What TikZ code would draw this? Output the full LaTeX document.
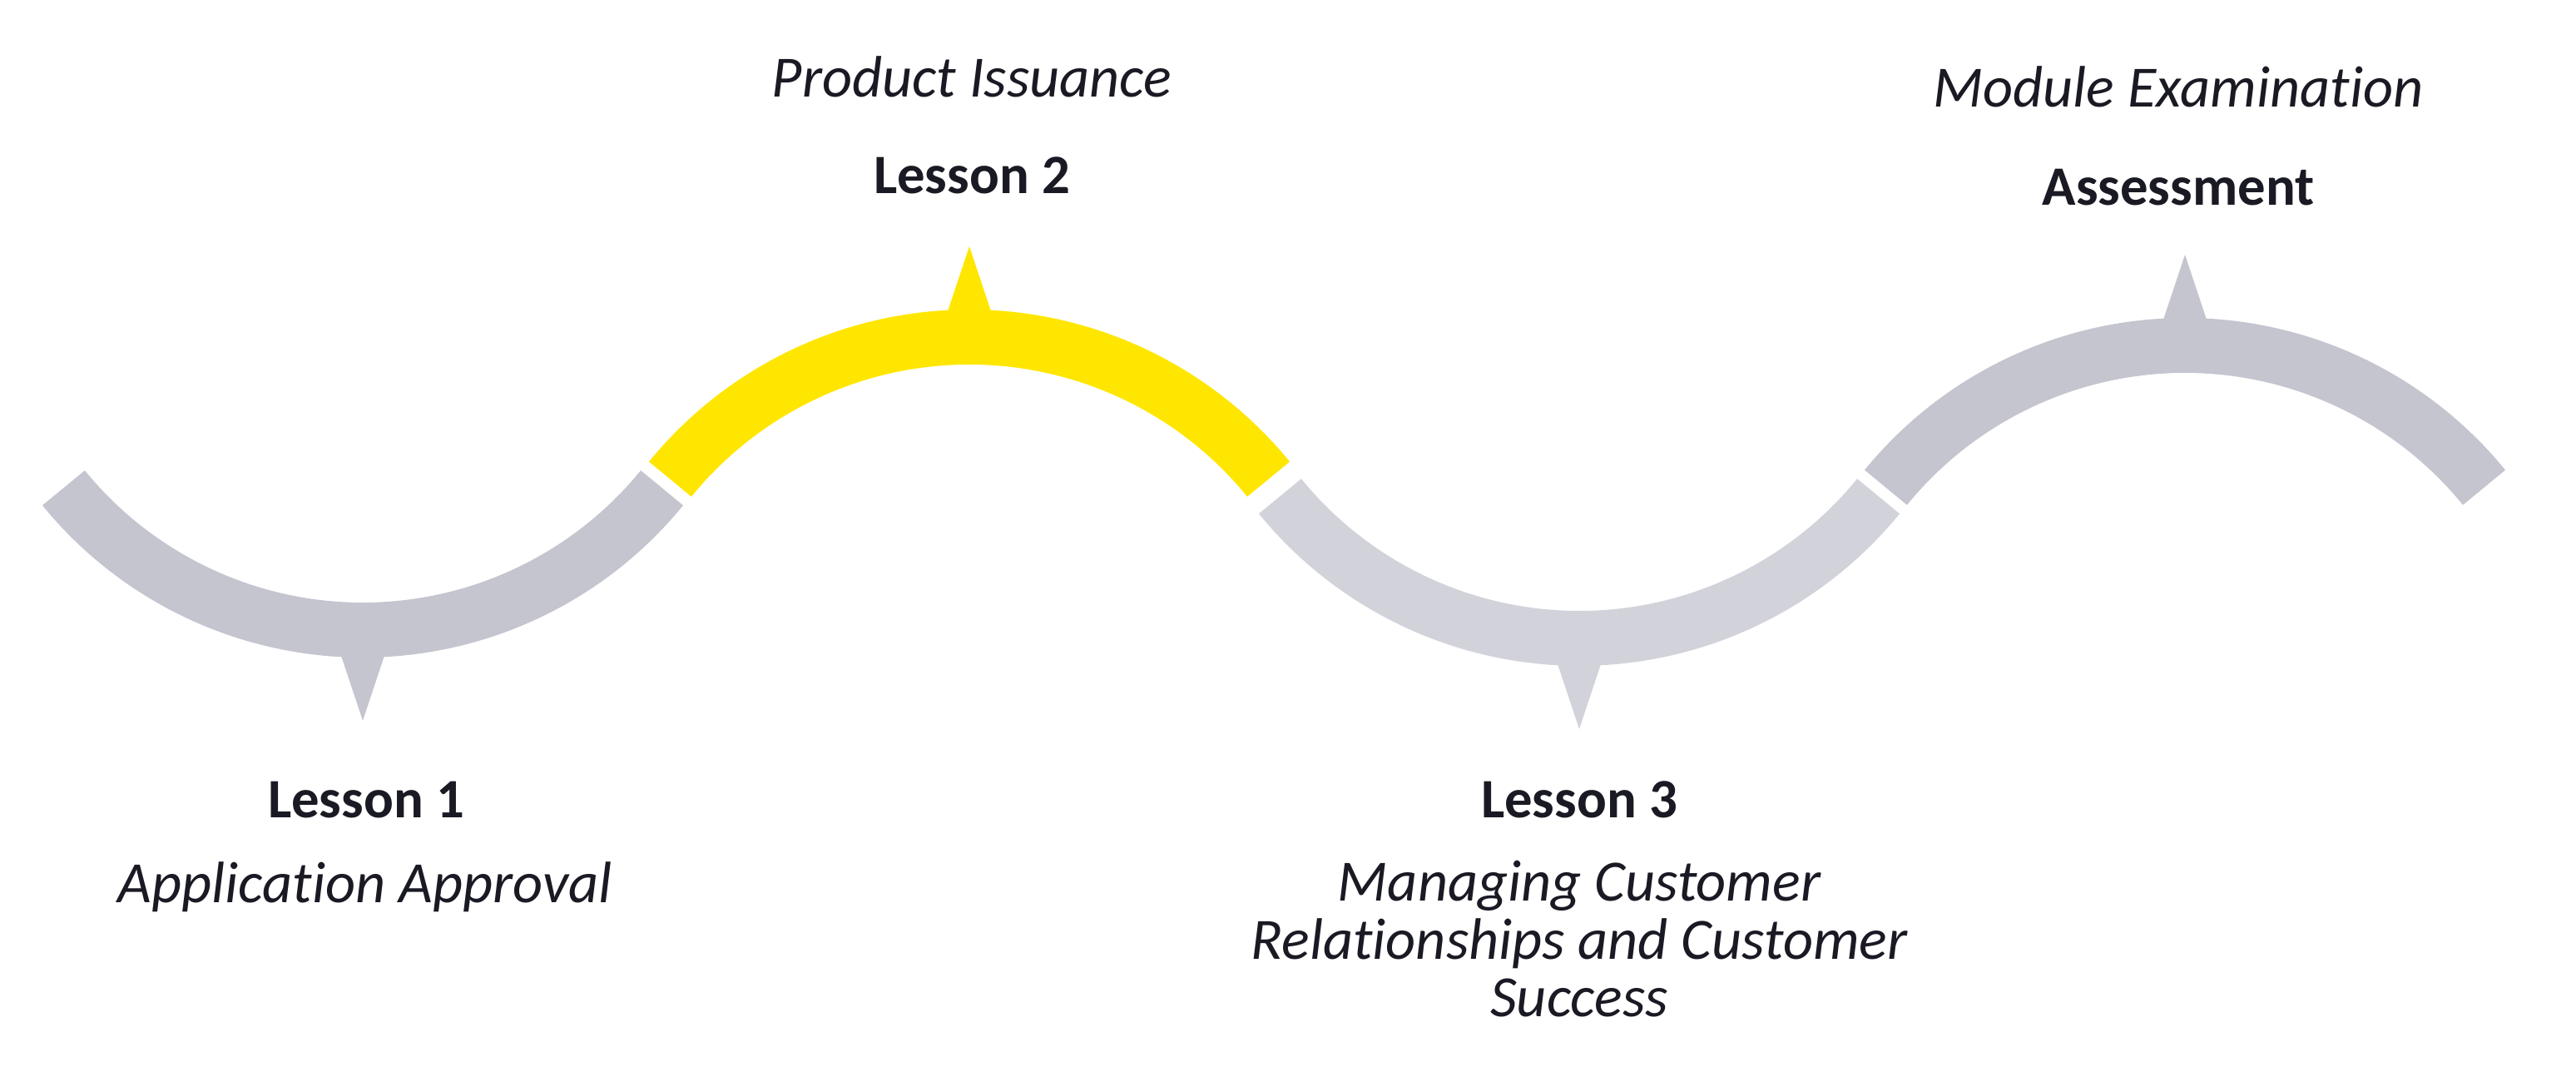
\documentclass[tikz,border=0pt]{standalone}
\usepackage{fontspec}
\setmainfont{Carlito}[Ligatures=CommonOff]
\usepackage{tikz}
\usetikzlibrary{calc}

\definecolor{pathgray}{RGB}{196,197,207}
\definecolor{pathlight}{RGB}{210,211,218}
\definecolor{pathyellow}{RGB}{255,230,0}
\definecolor{labelink}{RGB}{26,26,36}

\begin{document}
\begin{tikzpicture}[
        band/.style={line width=6.6mm},
        title/.style={anchor=base,text=labelink,inner sep=0pt,font=\fontsize{19}{23}\selectfont\bfseries},
        subtitle/.style={anchor=base,text=labelink,inner sep=0pt,align=center,font=\fontsize{20}{19.9}\selectfont\itshape}]
            \useasboundingbox (0,0) rectangle (30.96,12.82);

            \coordinate (c1) at (4.36,9.89);
            \coordinate (c2) at (11.65,4.13);
            \coordinate (c3) at (18.98,9.79);
            \coordinate (c4) at (26.26,4.03);

            % the four bends of the path
            \draw[band,pathgray] ($(c1)+(219.2:4.64)$) arc[start angle=219.2,end angle=320.8,radius=4.64];
            \draw[band,pathyellow] ($(c2)+(39.2:4.64)$) arc[start angle=39.2,end angle=140.8,radius=4.64];
            \draw[band,pathlight] ($(c3)+(219.2:4.64)$) arc[start angle=219.2,end angle=320.8,radius=4.64];
            \draw[band,pathgray] ($(c4)+(39.2:4.64)$) arc[start angle=39.2,end angle=140.8,radius=4.64];

            % pointers
            \fill[pathgray] ($(c1)+(-0.27,-4.92)$) -- ($(c1)+(0,-5.73)$) -- ($(c1)+(0.27,-4.92)$) -- cycle;
            \fill[pathyellow] ($(c2)+(-0.27,4.92)$) -- ($(c2)+(0,5.73)$) -- ($(c2)+(0.27,4.92)$) -- cycle;
            \fill[pathlight] ($(c3)+(-0.27,-4.92)$) -- ($(c3)+(0,-5.73)$) -- ($(c3)+(0.27,-4.92)$) -- cycle;
            \fill[pathgray] ($(c4)+(-0.27,4.92)$) -- ($(c4)+(0,5.73)$) -- ($(c4)+(0.27,4.92)$) -- cycle;

            \node[title] (lesson1) at (4.40,2.99) {Lesson 1};
            \node[subtitle] (approval) at (4.39,1.97) {Application Approval};
            \node[subtitle] (issuance) at (11.68,11.65) {Product Issuance};
            \node[title] (lesson2) at (11.68,10.49) {Lesson 2};
            \node[title] (lesson3) at (18.98,2.99) {Lesson 3};
            % base of a wrapped text sits on its last line
            \node[subtitle] (managing) at (18.98,0.60) {Managing Customer\\Relationships and Customer\\Success};
            \node[subtitle] (examination) at (26.18,11.53) {Module Examination};
            \node[title] (assessment) at (26.18,10.35) {Assessment};
        \end{tikzpicture}
\end{document}
